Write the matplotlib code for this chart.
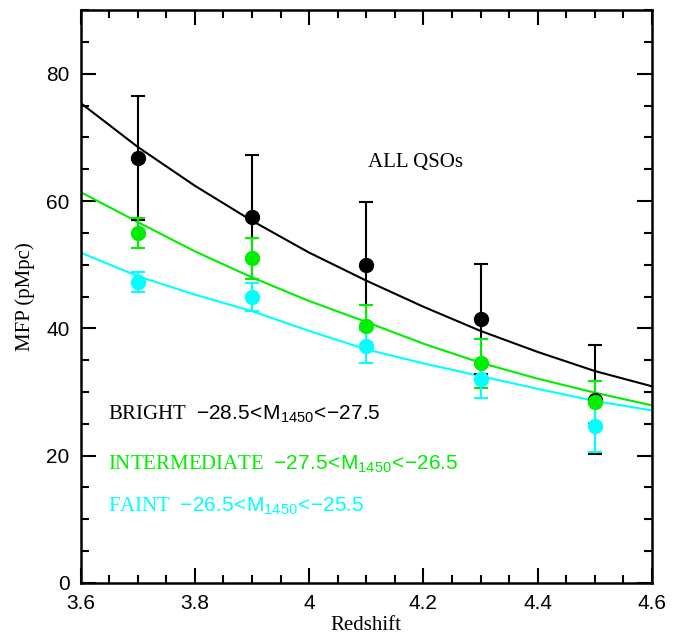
import matplotlib
matplotlib.use('Agg')
import matplotlib.pyplot as plt
from matplotlib.ticker import MultipleLocator

# measured mean free path per redshift bin
redshift=[3.7,3.9,4.1,4.3,4.5]
mfp_bright=[66.8,57.5,50.0,41.5,28.8]
err_bright=[9.7,9.8,9.8,8.6,8.6]
mfp_inter=[55.0,51.0,40.3,34.5,28.5]
err_inter=[2.3,3.2,3.3,3.9,3.3]
mfp_faint=[47.3,44.9,37.2,32.1,24.6]
err_faint=[1.6,2.2,2.6,3.0,4.1]

# fitted curves
z_fit=[3.6,3.7,3.8,3.9,4.0,4.1,4.2,4.3,4.4,4.5,4.6]
fit_bright=[75.4,68.5,62.4,56.9,51.9,47.5,43.4,39.6,36.3,33.3,30.9]
fit_inter=[61.4,56.7,52.1,48.0,44.3,41.0,37.6,34.6,32.1,29.9,27.9]
fit_faint=[51.9,48.2,45.3,42.7,39.6,36.7,34.5,32.5,30.5,28.6,27.1]

plt.rcParams['font.family']=['Liberation Serif','DejaVu Sans']
plt.rcParams['mathtext.fontset']='custom'
plt.rcParams['mathtext.rm']='Liberation Sans'
plt.rcParams['mathtext.default']='rm'

fig=plt.figure(figsize=(6.84,6.35),dpi=100)
ax=fig.add_axes([0.118,0.082,0.835,0.902])

series=[(fit_bright,mfp_bright,err_bright,'black'),
        (fit_inter,mfp_inter,err_inter,'#00ee00'),
        (fit_faint,mfp_faint,err_faint,'#00ffff')]
for fit,mfp,err,col in series:
    ax.plot(z_fit,fit,color=col,lw=1.5,zorder=2)
for fit,mfp,err,col in series:
    ax.errorbar(redshift,mfp,yerr=err,fmt='o',color=col,ms=10,
                elinewidth=1.5,capsize=5,capthick=1.5,zorder=3)

ax.set_xlim(3.6,4.6)
ax.set_ylim(0,90)
ax.xaxis.set_major_locator(MultipleLocator(0.2))
ax.xaxis.set_minor_locator(MultipleLocator(0.05))
ax.yaxis.set_major_locator(MultipleLocator(20))
ax.yaxis.set_minor_locator(MultipleLocator(5))
ax.set_xticks([3.6,3.8,4.0,4.2,4.4,4.6],['3.6','3.8','4','4.2','4.4','4.6'])
ax.tick_params(which='both',direction='in',top=True,right=True,width=1.5)
ax.tick_params(which='major',length=11,labelsize=15,pad=8)
ax.tick_params(which='minor',length=6)
for lab in ax.get_xticklabels()+ax.get_yticklabels():
    lab.set_fontfamily('Liberation Sans')
for s in ax.spines.values():
    s.set_linewidth(1.8)

ax.set_xlabel('Redshift',fontsize=15,labelpad=2)
ax.set_ylabel('MFP (pMpc)',fontsize=15,labelpad=8)

ax.text(4.103,66.1,'ALL QSOs',fontsize=15,va='center')
ax.text(3.647,26.5,r'BRIGHT  $-28.5\!<\!M_{1450}\!<\!{-}27.5$',fontsize=15,va='center',color='black')
ax.text(3.647,18.6,r'INTERMEDIATE  $-27.5\!<\!M_{1450}\!<\!{-}26.5$',fontsize=15,va='center',color='#00ee00')
ax.text(3.647,12.0,r'FAINT  $-26.5\!<\!M_{1450}\!<\!{-}25.5$',fontsize=15,va='center',color='#00ffff')

fig.savefig('out.png',dpi=100)
